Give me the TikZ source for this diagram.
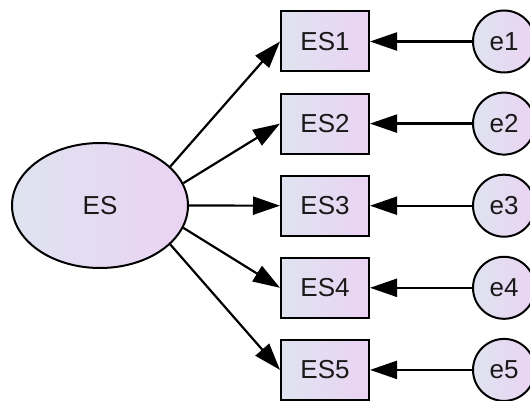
\documentclass[tikz,border=0pt]{standalone}
\usepackage{fontspec}
\setmainfont{Liberation Sans}
\usetikzlibrary{shapes.geometric,arrows.meta}
\definecolor{fillL}{HTML}{DFE3F0}
\definecolor{fillR}{HTML}{EBD3F3}
\tikzset{
  base/.style={draw=black, line width=2pt, left color=fillL, right color=fillR, inner sep=0pt,
    font=\fontsize{26}{30}\selectfont, text=black!90},
  latent/.style={base, ellipse, minimum width=176pt, minimum height=125pt},
  obs/.style={base, rectangle, minimum width=88pt, minimum height=60pt},
  err/.style={base, circle, minimum size=62pt},
  path/.style={draw=black, line width=2.2pt, -{Triangle[length=27pt,width=18pt]}}
}
\begin{document}
\begin{tikzpicture}[x=1pt,y=-1pt]
\useasboundingbox[fill=white] (0,0) rectangle (530,401);
\node[latent] (es) at (100,205.5) {ES};
\foreach \i in {1,...,5}{
  \node[obs] (es\i) at (325,{41.5+82.1*(\i-1)}) {ES\i};
  \node[err] (e\i) at (504,{41.5+82.1*(\i-1)}) {e\i};
  \draw[path] (e\i) -- (es\i.east);
}
\draw[path] (es.29) -- (es1.west);
\draw[path] (es.15) -- (es2.west);
\draw[path] (es.east) -- (es3.west);
\draw[path] (es.-15) -- (es4.west);
\draw[path] (es.-29) -- (es5.west);
\end{tikzpicture}
\end{document}
